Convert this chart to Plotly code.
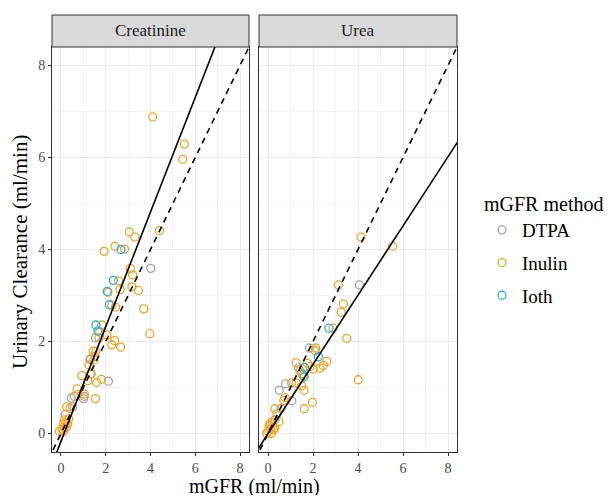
import plotly.graph_objects as go
from plotly.subplots import make_subplots

facets = ["Creatinine", "Urea"]
methods = ["DTPA", "Inulin", "Ioth"]
method_colors = {"DTPA": "#A3A3A3", "Inulin": "#F6A21E", "Ioth": "#1FB3E8"}

# Creatinine panel
crea_dtpa_x = [4.01, 1.54, 1.29, 1.32, 1.35, 2.12, 0.46, 0.59, 1.04, 1.01, 0.52, 0.19]
crea_dtpa_y = [3.59, 2.08, 1.61, 1.62, 1.30, 1.14, 0.77, 0.81, 0.81, 0.76, 0.58, 0.41]
crea_ioth_x = [2.68, 2.34, 2.07, 2.16, 1.56, 1.65]
crea_ioth_y = [4.00, 3.33, 3.09, 2.80, 2.36, 2.23]
crea_inul_x = [4.10, 5.51, 5.44, 4.40, 3.05, 3.30, 2.41, 1.93, 2.84, 3.10, 3.20, 2.58,
               3.17, 2.64, 2.10, 3.46, 2.27, 2.44, 3.70, 3.97, 1.82, 1.73, 2.06, 1.70,
               2.40, 2.27, 2.67, 1.44, 1.56, 1.50, 1.47, 1.25, 0.93, 1.32, 1.20, 1.59,
               1.81, 0.72, 1.54, 0.76, 1.04, 0.26, 0.40, 0.15, 0.22, 0.10, 0.30, 0.18,
               0.05, 0.25, -0.07, 0.12, 0.35]
crea_inul_y = [6.88, 6.29, 5.96, 4.41, 4.38, 4.27, 4.07, 3.96, 4.01, 3.59, 3.45, 3.32,
               3.19, 3.13, 3.07, 3.11, 2.79, 2.75, 2.71, 2.17, 2.36, 2.21, 2.14, 2.08,
               2.02, 1.93, 1.88, 1.79, 1.79, 1.68, 1.60, 1.49, 1.26, 1.30, 1.15, 1.11,
               1.18, 0.97, 0.76, 0.85, 0.86, 0.58, 0.55, 0.30, 0.25, 0.20, 0.22, 0.12,
               0.10, 0.15, 0.05, 0.05, 0.32]

# Urea panel
urea_dtpa_x = [4.06, 1.84, 1.35, 0.78, 0.50, 1.06, 0.58, 0.31]
urea_dtpa_y = [3.23, 1.86, 1.43, 1.08, 0.94, 0.71, 0.55, 0.30]
urea_ioth_x = [2.71, 2.24, 1.62, 1.61]
urea_ioth_y = [2.29, 1.67, 1.44, 1.23]
urea_inul_x = [4.13, 5.54, 3.13, 3.35, 3.25, 2.89, 3.50, 2.12, 2.10, 4.01, 2.61, 2.46,
               2.31, 1.25, 1.75, 1.87, 2.01, 1.42, 1.50, 1.57, 1.05, 1.25, 1.50, 1.60,
               0.76, 0.70, 1.97, 1.61, 0.30, 0.40, 0.49, 0.00, 0.10, 0.20, 0.15, 0.05,
               0.25, -0.05, 0.10, 0.30, 0.18]
urea_inul_y = [4.27, 4.07, 3.23, 2.82, 2.64, 2.29, 2.07, 1.86, 1.80, 1.17, 1.57, 1.48,
               1.42, 1.54, 1.53, 1.46, 1.40, 1.37, 1.30, 1.26, 1.10, 1.10, 1.04, 0.94,
               0.78, 0.72, 0.68, 0.54, 0.54, 0.43, 0.26, 0.05, 0.10, 0.15, 0.00, 0.18,
               0.08, 0.00, 0.22, 0.12, 0.25]

points = {
    "Creatinine": {"DTPA": (crea_dtpa_x, crea_dtpa_y), "Inulin": (crea_inul_x, crea_inul_y),
                   "Ioth": (crea_ioth_x, crea_ioth_y)},
    "Urea": {"DTPA": (urea_dtpa_x, urea_dtpa_y), "Inulin": (urea_inul_x, urea_inul_y),
             "Ioth": (urea_ioth_x, urea_ioth_y)},
}

fit_slope = [1.246, 0.752]
fit_intercept = [-0.17, 0.0]
identity_slope = 1.0
line_x = [-1.0, 9.0]

tick_vals = [0, 2, 4, 6, 8]
tick_text = ["0", "2", "4", "6", "8"]

FONT = "Liberation Serif"
W, H = 613, 497

def px(v):
    return v / W

def py(v):
    return 1 - v / H

fig = make_subplots(rows=1, cols=2, shared_yaxes=True)

for i, facet in enumerate(facets):
    col = i + 1
    for m in methods:
        xs, ys = points[facet][m]
        fig.add_trace(go.Scatter(
            x=xs, y=ys, mode="markers", name=m, legendgroup=m,
            showlegend=(i == 0),
            marker=dict(symbol="circle-open", size=8, color=method_colors[m],
                        line=dict(width=1.3, color=method_colors[m])),
        ), row=1, col=col)
    fig.add_trace(go.Scatter(
        x=line_x, y=[identity_slope * v for v in line_x], mode="lines",
        line=dict(color="black", width=1.6, dash="6px,5px"), showlegend=False,
        hoverinfo="skip"), row=1, col=col)
    fig.add_trace(go.Scatter(
        x=line_x, y=[fit_slope[i] * v + fit_intercept[i] for v in line_x], mode="lines",
        line=dict(color="black", width=1.6), showlegend=False, hoverinfo="skip"),
        row=1, col=col)

x_domains = [[px(52), px(249)], [px(259), px(457)]]
y_domain = [py(452), py(47)]

axis_common = dict(
    range=[-0.4, 8.4], tickvals=tick_vals, ticktext=tick_text,
    ticks="outside", ticklen=3, tickwidth=1, tickcolor="#333333",
    tickfont=dict(family=FONT, size=14, color="#4D4D4D"),
    showgrid=True, gridcolor="#EBEBEB", gridwidth=1.1,
    minor=dict(dtick=1, tick0=1, showgrid=True, gridcolor="#F3F3F3", gridwidth=0.6, ticks=""),
    showline=True, linecolor="#333333", linewidth=1, mirror=True, zeroline=False,
)

fig.update_xaxes(**axis_common)
fig.update_yaxes(**axis_common)
fig.update_layout(
    xaxis=dict(domain=x_domains[0]),
    xaxis2=dict(domain=x_domains[1]),
    yaxis=dict(domain=y_domain),
    yaxis2=dict(domain=y_domain, showticklabels=False, ticks=""),
)

# strips
for i, facet in enumerate(facets):
    x0, x1 = x_domains[i]
    fig.add_shape(type="rect", xref="paper", yref="paper", x0=x0, x1=x1,
                  y0=py(47), y1=py(15), fillcolor="#D9D9D9",
                  line=dict(color="#333333", width=1), layer="above")
    fig.add_annotation(xref="paper", yref="paper", x=(x0 + x1) / 2, y=py(31),
                       text=facet, showarrow=False, xanchor="center", yanchor="middle",
                       font=dict(family=FONT, size=17, color="#1A1A1A"))

# axis titles
fig.add_annotation(xref="paper", yref="paper", x=px(254), y=py(486), text="mGFR (ml/min)",
                   showarrow=False, xanchor="center", yanchor="middle", height=18,
                   font=dict(family=FONT, size=20, color="black"))
fig.add_annotation(xref="paper", yref="paper", x=px(20), y=py(252),
                   text="Urinary Clearance (ml/min)", textangle=-90,
                   showarrow=False, xanchor="center", yanchor="middle",
                   font=dict(family=FONT, size=21, color="black"))

fig.update_layout(
    width=W, height=H,
    margin=dict(l=0, r=0, t=0, b=0),
    paper_bgcolor="white", plot_bgcolor="white",
    legend=dict(
        title=dict(text="mGFR method", font=dict(family=FONT, size=20, color="black")),
        font=dict(family=FONT, size=19, color="black"),
        x=px(482), xanchor="left", y=py(185), yanchor="top",
        tracegroupgap=5, bgcolor="rgba(0,0,0,0)", itemsizing="trace",
    ),
)

fig.write_html("out.html")
